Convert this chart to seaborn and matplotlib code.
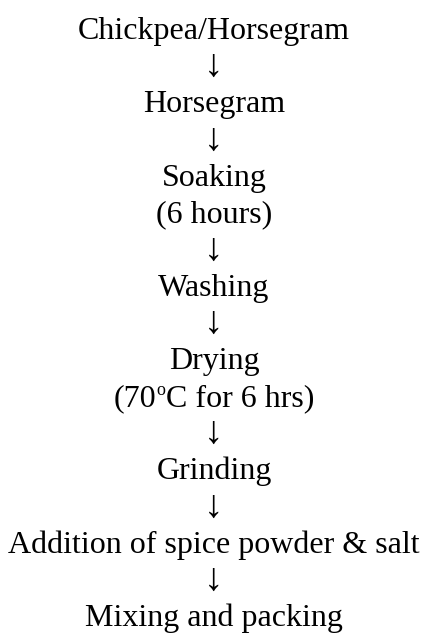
import matplotlib
matplotlib.use("Agg")
import matplotlib.pyplot as plt
import seaborn as sns

# process steps, top to bottom; "↓" rows are the connecting arrows
steps = [
    "Chickpea/Horsegram",
    "↓",
    "Horsegram",
    "↓",
    "Soaking",
    "(6 hours)",
    "↓",
    "Washing",
    "↓",
    "Drying",
    "(70|o|C for 6 hrs)",   # "o" written as a superscript
    "↓",
    "Grinding",
    "↓",
    "Addition of spice powder & salt",
    "↓",
    "Mixing and packing",
]
row = list(range(len(steps)))

sns.set_theme(style="white")
plt.rcParams['font.family'] = ['Liberation Serif', 'DejaVu Serif']

fig = plt.figure(figsize=(4.26, 6.33), dpi=100)
ax = fig.add_axes([0, 0, 1, 1])
ax.set_xlim(0, 426)
ax.set_ylim(16.185, -1.063)
ax.axis('off')
renderer = fig.canvas.get_renderer()

xc = 214
for i, s in zip(row, steps):
    if s == "↓":
        ax.text(xc, i - 0.25, s, ha='center', va='center', fontsize=28, color='black')
    elif "|" in s:
        # text with a raised small "o" (degree mark)
        pre, sup, post = s.split("|")
        t1 = ax.text(0, i, pre, ha='left', va='baseline', fontsize=23, color='black')
        t2 = ax.text(0, i - 0.30, sup, ha='left', va='baseline', fontsize=13, color='black')
        t3 = ax.text(0, i, post, ha='left', va='baseline', fontsize=23, color='black')
        ws = [t.get_window_extent(renderer).width for t in (t1, t2, t3)]
        x = xc - sum(ws) / 2
        for t, w in zip((t1, t2, t3), ws):
            t.set_x(x)
            x += w
    else:
        ax.text(xc, i, s, ha='center', va='baseline', fontsize=23, color='black')

fig.savefig('out.png', dpi=100, facecolor='white')
plt.close()
